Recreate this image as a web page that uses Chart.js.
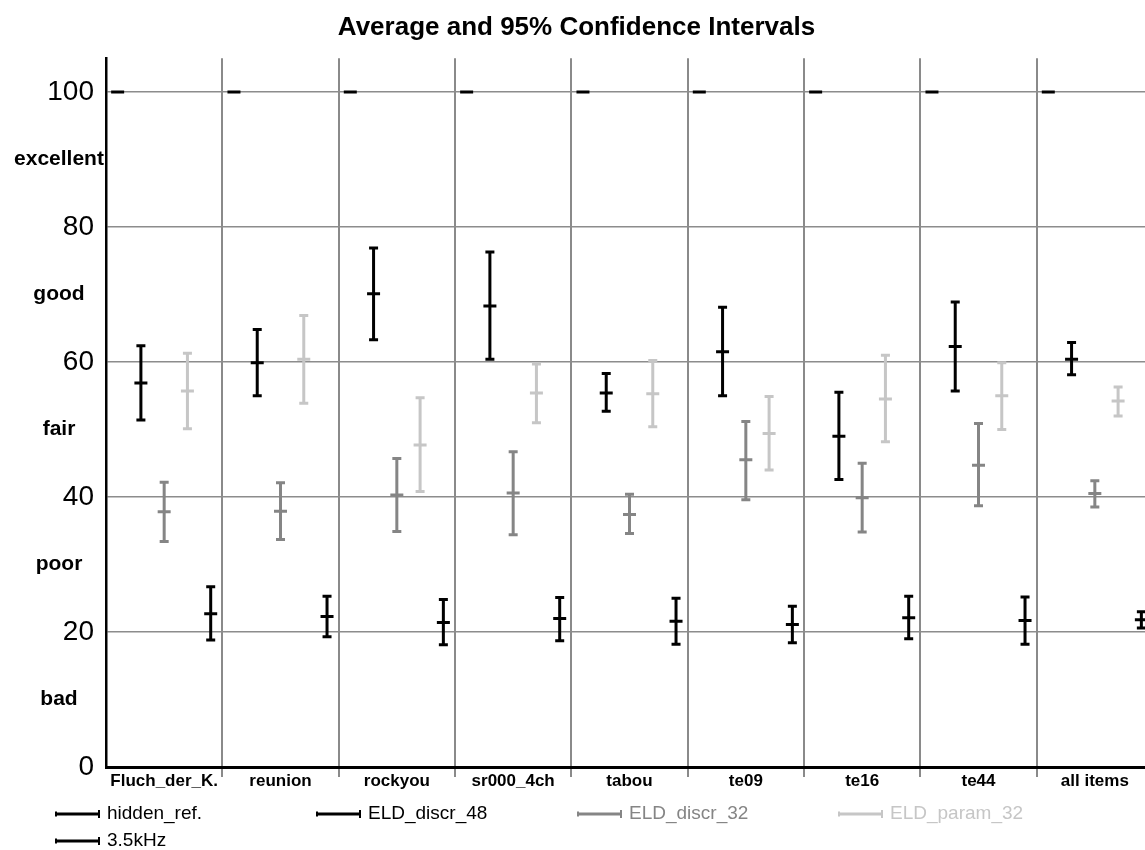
<!DOCTYPE html>
<html>
<head>
<meta charset="utf-8">
<script src="https://cdn.jsdelivr.net/npm/chart.js@4"></script>
<style>
  html, body { margin: 0; padding: 0; background: #fff; overflow: hidden; }
  canvas { display: block; }
</style>
</head>
<body>
<canvas id="graficoCI" width="1166" height="850"></canvas>
<script>
// ======== DADOS ===========
const categories = ['Fluch_der_K.', 'reunion', 'rockyou', 'sr000_4ch', 'tabou', 'te09', 'te16', 'te44', 'all items'];
const seriesNames = ['hidden_ref.', 'ELD_discr_48', 'ELD_discr_32', 'ELD_param_32', '3.5kHz'];
const seriesColors = ['#000000', '#000000', '#858585', '#c6c6c6', '#000000'];

const hiddenRefMean = [100, 100, 100, 100, 100, 100, 100, 100, 100];
const hiddenRefLo   = [100, 100, 100, 100, 100, 100, 100, 100, 100];
const hiddenRefHi   = [100, 100, 100, 100, 100, 100, 100, 100, 100];

const eld48Mean = [56.9, 59.9, 70.1, 68.3, 55.4, 61.5, 49.0, 62.3, 60.4];
const eld48Lo   = [51.4, 55.0, 63.3, 60.4, 52.7, 55.0, 42.6, 55.7, 58.1];
const eld48Hi   = [62.4, 64.8, 76.9, 76.3, 58.3, 68.1, 55.5, 68.9, 62.9];

const discr32Mean = [37.8, 37.9, 40.3, 40.6, 37.4, 45.5, 39.9, 44.7, 40.5];
const discr32Lo   = [33.4, 33.7, 34.9, 34.4, 34.6, 39.6, 34.8, 38.7, 38.5];
const discr32Hi   = [42.2, 42.1, 45.7, 46.7, 40.4, 51.2, 45.0, 50.9, 42.4];

const param32Mean = [55.7, 60.4, 47.7, 55.4, 55.3, 49.4, 54.5, 55.0, 54.2];
const param32Lo   = [50.1, 53.9, 40.8, 51.0, 50.4, 44.0, 48.2, 50.0, 52.0];
const param32Hi   = [61.3, 66.9, 54.7, 59.7, 60.2, 54.9, 61.0, 59.9, 56.3];

const k35Mean = [22.7, 22.3, 21.4, 22.0, 21.6, 21.1, 22.1, 21.7, 21.8];
const k35Lo   = [18.8, 19.3, 18.1, 18.7, 18.2, 18.4, 19.0, 18.2, 20.6];
const k35Hi   = [26.7, 25.3, 24.8, 25.1, 25.0, 23.8, 25.3, 25.2, 23.0];

const yTicks = [0, 20, 40, 60, 80, 100];
const qualityLabels = ['bad', 'poor', 'fair', 'good', 'excellent'];
const qualityValues = [10, 30, 50, 70, 90];

const means = [hiddenRefMean, eld48Mean, discr32Mean, param32Mean, k35Mean];
const lows = [hiddenRefLo, eld48Lo, discr32Lo, param32Lo, k35Lo];
const highs = [hiddenRefHi, eld48Hi, discr32Hi, param32Hi, k35Hi];

const FONT = '"Liberation Sans", Arial, sans-serif';
Chart.defaults.font.family = FONT;
Chart.defaults.color = '#000';

// cada categoria dividida em 5 posições
const datasets = seriesNames.map((name, s) => ({
  label: name,
  data: categories.map((c, i) => ({
    x: i + (s + 0.5) / seriesNames.length,
    y: means[s][i],
    lo: lows[s][i],
    hi: highs[s][i]
  })),
  borderColor: seriesColors[s],
  backgroundColor: seriesColors[s],
  pointStyle: 'line',
  pointRadius: 6.5,
  pointHoverRadius: 6.5,
  pointBorderWidth: 3,
  showLine: false
}));

// ======== PLUGINS ==========

// barras de erro (IC 95%)
const errorBars = {
  id: 'errorBars',
  beforeDatasetsDraw(chart) {
    const { ctx } = chart;
    const yScale = chart.scales.y;
    chart.data.datasets.forEach((ds, s) => {
      const meta = chart.getDatasetMeta(s);
      ctx.save();
      ctx.strokeStyle = ds.borderColor;
      ctx.lineWidth = 3;
      meta.data.forEach((pt, i) => {
        const d = ds.data[i];
        if (d.hi === d.lo) return;
        const top = yScale.getPixelForValue(d.hi);
        const bot = yScale.getPixelForValue(d.lo);
        ctx.beginPath();
        ctx.moveTo(pt.x, top);
        ctx.lineTo(pt.x, bot);
        ctx.moveTo(pt.x - 4.5, top);
        ctx.lineTo(pt.x + 4.5, top);
        ctx.moveTo(pt.x - 4.5, bot);
        ctx.lineTo(pt.x + 4.5, bot);
        ctx.stroke();
      });
      ctx.restore();
    });
  }
};

// rótulos de qualidade no eixo y
const qualityText = {
  id: 'qualityText',
  afterDraw(chart) {
    const { ctx } = chart;
    const yScale = chart.scales.y;
    ctx.save();
    ctx.font = 'bold 21px ' + FONT;
    ctx.fillStyle = '#000';
    ctx.textAlign = 'center';
    ctx.textBaseline = 'middle';
    qualityLabels.forEach((txt, i) => {
      ctx.fillText(txt, 59, yScale.getPixelForValue(qualityValues[i]));
    });
    ctx.restore();
  }
};

// legenda em colunas fixas
const fixedLegend = {
  id: 'fixedLegend',
  afterDraw(chart) {
    const { ctx } = chart;
    ctx.save();
    ctx.font = '19px ' + FONT;
    ctx.textBaseline = 'middle';
    seriesNames.forEach((name, s) => {
      const x0 = 55 + (s % 4) * 261;
      const y0 = 814 + Math.floor(s / 4) * 27;
      ctx.strokeStyle = seriesColors[s];
      ctx.fillStyle = seriesColors[s];
      ctx.lineWidth = 3;
      ctx.beginPath();
      ctx.moveTo(x0, y0);
      ctx.lineTo(x0 + 45, y0);
      ctx.stroke();
      ctx.lineWidth = 2;
      ctx.beginPath();
      ctx.moveTo(x0 + 44, y0 - 4);
      ctx.lineTo(x0 + 44, y0 + 4);
      ctx.moveTo(x0 + 1, y0 - 2.5);
      ctx.lineTo(x0 + 1, y0 + 2.5);
      ctx.stroke();
      ctx.fillText(name, x0 + 52, y0);
    });
    ctx.restore();
  }
};

// ======== GRÁFICO ==========
new Chart(document.getElementById('graficoCI'), {
  type: 'scatter',
  data: { datasets },
  options: {
    responsive: false,
    animation: false,
    layout: { padding: { right: 13 } },
    plugins: {
      legend: { display: false },
      tooltip: { enabled: false },
      title: {
        display: true,
        text: 'Average and 95% Confidence Intervals',
        font: { size: 26, weight: 'bold' },
        color: '#000',
        padding: { top: 12, bottom: 15 }
      }
    },
    scales: {
      x: {
        type: 'linear',
        min: 0,
        max: categories.length,
        display: false
      },
      xc: {
        type: 'category',
        labels: categories,
        position: 'bottom',
        offset: true,
        grid: {
          offset: true,
          color: ctx => ctx.index === 0 ? 'rgba(0,0,0,0)' : '#8a8a8a',
          lineWidth: 2,
          tickLength: 10
        },
        border: { color: '#000', width: 3 },
        ticks: {
          font: { size: 17, weight: 'bold' },
          color: '#000',
          padding: -6,
          maxRotation: 0,
          autoSkip: false
        },
        afterFit(scale) { scale.height = 83; }
      },
      y: {
        type: 'linear',
        min: 0,
        max: 105,
        afterBuildTicks(scale) { scale.ticks = yTicks.map(v => ({ value: v })); },
        ticks: { font: { size: 28 }, color: '#000', padding: 12 },
        grid: { color: '#8c8c8c', lineWidth: 1.5, drawTicks: false },
        border: { color: '#000', width: 2.5 },
        afterFit(scale) { scale.width = 106; }
      }
    }
  },
  plugins: [errorBars, qualityText, fixedLegend]
});
</script>
</body>
</html>
